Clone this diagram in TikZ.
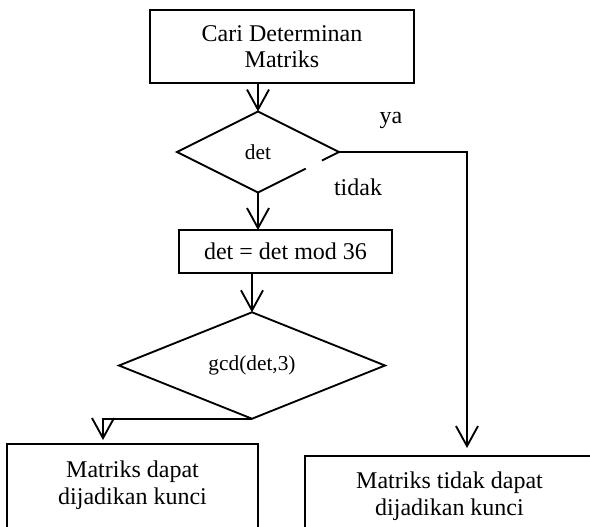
\documentclass[tikz,border=0pt]{standalone}
\usepackage{fontspec}
\setmainfont{Liberation Serif}
\usetikzlibrary{arrows.meta,shapes.geometric,calc}
\begin{document}
\begin{tikzpicture}[x=0.75pt,y=-0.75pt,
  boxnode/.style={draw, line width=1.2pt, rectangle, inner sep=0pt, outer sep=0pt, align=center, font=\fontsize{18pt}{20pt}\selectfont},
  decnode/.style={diamond, inner sep=0pt, outer sep=0pt, font=\fontsize{16pt}{18pt}\selectfont},
  dline/.style={line width=1.4pt, line join=miter},
  arr/.style={line width=1.4pt, -{Straight Barb[length=15pt,width=16.5pt]}},
  lbl/.style={font=\fontsize{18pt}{20pt}\selectfont, inner sep=0pt, align=center}]
\clip (0,0) rectangle (590,526);
% process box
\node[boxnode, minimum width=198pt, minimum height=54.75pt] (top) at (282,46.5) {Cari Determinan\\Matriks};
% first decision
\node[decnode, minimum width=121.5pt, minimum height=60.75pt] (d1) at (258,152) {det};
\draw[dline] ($(d1.east)!0.21!(d1.south)$) -- (d1.east) -- (d1.north) -- (d1.west) -- (d1.south) -- ($(d1.east)!0.41!(d1.south)$);
% mod box
\node[boxnode, minimum width=159.75pt, minimum height=32.25pt] (mod) at (285.5,251.5) {det = det mod 36};
% second decision
\node[decnode, draw, dline, minimum width=199.5pt, minimum height=69.75pt] (d2) at (252,365.5) {gcd(det,3)};
% result boxes
\node[boxnode, minimum width=188.25pt, minimum height=75pt, anchor=north,
  label={[lbl, anchor=north, yshift=-12.45pt]north:{Matriks dapat\\dijadikan kunci}}] (lb) at (132.5,444) {};
\node[boxnode, minimum width=216.75pt, minimum height=75pt, anchor=north,
  label={[lbl, anchor=north, yshift=-11.7pt]north:{Matriks tidak dapat\\dijadikan kunci}}] (rb) at (449.5,456) {};
% labels
\node[lbl, anchor=base] (ya) at (391,123) {ya};
\node[lbl, anchor=base] (tidak) at (358,195) {tidak};
% connectors
\coordinate (lx) at (103,0);
\coordinate (rx) at (467,0);
\draw[arr] (d1.north |- top.south) -- (d1.north);
\draw[arr] (d1.south) -- (d1.south |- mod.north);
\draw[arr] (d2.north |- mod.south) -- (d2.north);
\draw[arr, shorten >=3pt] (d2.south) -| (lx |- lb.north);
\draw[arr, shorten >=6pt] (d1.east) -| (rx |- rb.north);
\end{tikzpicture}
\end{document}
